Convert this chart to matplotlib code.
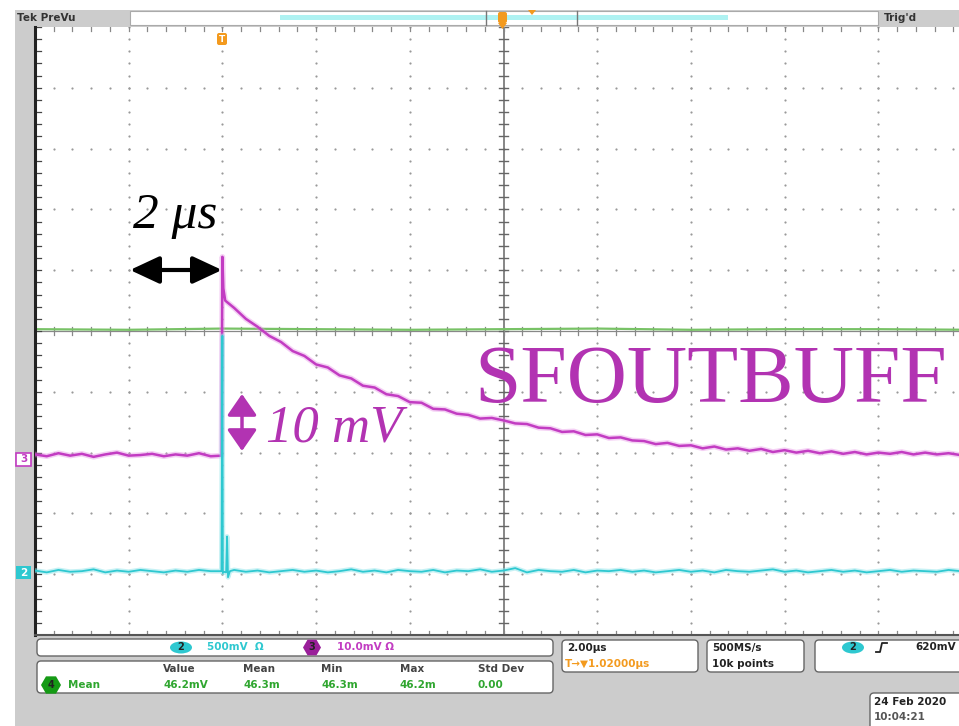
import matplotlib.pyplot as plt
from matplotlib.patches import Rectangle, FancyBboxPatch, Ellipse, RegularPolygon, Polygon


W, H = 959, 726
GRAY = "#cccccc"
MAGENTA = "#c23cc2"
MAG_TEXT = "#b233b2"
CYAN = "#2ec8d0"
GREEN = "#78c266"
ORANGE = "#f39a1e"

# time in us (2 us/div), amplitude in screen divisions
mag_t = [-10.0, -9.75, -9.5, -9.25, -9.0, -8.75, -8.5, -8.25, -8.0, -7.75, -7.5, -7.25,
         -7.0, -6.75, -6.5, -6.25, -6.02, -6.0, -5.98, -5.94,
         -5.75, -5.5, -5.25, -5.0, -4.75, -4.5, -4.25, -4.0, -3.75, -3.5, -3.25, -3.0,
         -2.75, -2.5, -2.25, -2.0, -1.75, -1.5, -1.25, -1.0, -0.75, -0.5, -0.25, 0.0,
         0.25, 0.5, 0.75, 1.0, 1.25, 1.5, 1.75, 2.0, 2.25, 2.5, 2.75, 3.0,
         3.25, 3.5, 3.75, 4.0, 4.25, 4.5, 4.75, 5.0, 5.25, 5.5, 5.75, 6.0,
         6.25, 6.5, 6.75, 7.0, 7.25, 7.5, 7.75, 8.0, 8.25, 8.5, 8.75, 9.0,
         9.25, 9.5, 9.75, 10.0]
mag_v = [-2.03, -2.06, -2.01, -2.05, -2.02, -2.07, -2.03, -2.00, -2.05, -2.04, -2.02, -2.06,
         -2.03, -2.05, -2.01, -2.06, -2.05, 1.22, 0.70, 0.50,
         0.38, 0.20, 0.07, -0.08, -0.18, -0.33, -0.41, -0.55, -0.60, -0.73, -0.78, -0.90,
         -0.93, -1.04, -1.07, -1.17, -1.18, -1.28, -1.29, -1.36, -1.38, -1.44, -1.43, -1.47,
         -1.52, -1.53, -1.59, -1.60, -1.66, -1.65, -1.71, -1.70, -1.76, -1.75, -1.80, -1.81,
         -1.86, -1.84, -1.89, -1.88, -1.93, -1.90, -1.95, -1.93, -1.97, -1.94, -1.99, -1.96,
         -2.00, -1.97, -2.01, -1.98, -2.02, -1.99, -2.03, -2.00, -2.02, -1.99, -2.03, -2.00,
         -2.03, -2.01, -2.04, -2.01]

cyan_t = [-10.0, -9.75, -9.5, -9.25, -9.0, -8.75, -8.5, -8.25, -8.0, -7.75, -7.5, -7.25,
          -7.0, -6.75, -6.5, -6.25, -6.02, -6.0, -5.99, -5.97, -5.92, -5.9, -5.88, -5.84,
          -5.75, -5.5, -5.25, -5.0, -4.75, -4.5, -4.25, -4.0, -3.75, -3.5, -3.25, -3.0,
          -2.75, -2.5, -2.25, -2.0, -1.75, -1.5, -1.25, -1.0, -0.75, -0.5, -0.25, 0.0,
          0.25, 0.5, 0.75, 1.0, 1.25, 1.5, 1.75, 2.0, 2.25, 2.5, 2.75, 3.0,
          3.25, 3.5, 3.75, 4.0, 4.25, 4.5, 4.75, 5.0, 5.25, 5.5, 5.75, 6.0,
          6.25, 6.5, 6.75, 7.0, 7.25, 7.5, 7.75, 8.0, 8.25, 8.5, 8.75, 9.0,
          9.25, 9.5, 9.75, 10.0]
cyan_v = [-3.94, -3.97, -3.93, -3.96, -3.95, -3.92, -3.97, -3.94, -3.96, -3.93, -3.95, -3.97,
          -3.94, -3.96, -3.93, -3.95, -3.95, -0.08, -3.98, -3.96, -3.97, -3.38, -4.05, -3.95,
          -3.93, -3.96, -3.94, -3.97, -3.95, -3.93, -3.96, -3.94, -3.97, -3.95, -3.92, -3.96,
          -3.94, -3.97, -3.93, -3.95, -3.96, -3.93, -3.97, -3.94, -3.95, -3.92, -3.96, -3.94,
          -3.90, -3.97, -3.93, -3.95, -3.96, -3.93, -3.97, -3.94, -3.95, -3.93, -3.96, -3.94,
          -3.97, -3.95, -3.93, -3.96, -3.94, -3.97, -3.93, -3.95, -3.96, -3.94, -3.92, -3.96,
          -3.94, -3.97, -3.95, -3.93, -3.96, -3.94, -3.97, -3.95, -3.93, -3.96, -3.94, -3.95,
          -3.96, -3.93, -3.95, -3.94]

green_t = [-10.0, -8.0, -6.0, -4.0, -2.0, 0.0, 2.0, 4.0, 6.0, 8.0, 10.0]
green_v = [0.03, 0.02, 0.04, 0.03, 0.02, 0.03, 0.04, 0.02, 0.03, 0.03, 0.02]

meas_headers = ["Value", "Mean", "Min", "Max", "Std Dev"]
meas_values = ["46.2mV", "46.3m", "46.3m", "46.2m", "0.00"]
meas_x = [163, 243, 321, 400, 478]


def rbox(axis, x0, y0, x1, y1):
    axis.add_patch(FancyBboxPatch((x0, y0), x1 - x0, y1 - y0,
                                  boxstyle="round,pad=0,rounding_size=4",
                                  facecolor="white", edgecolor="#666666", lw=1.0))


def small(axis, x, y, s, color="#222222", **kw):
    axis.text(x, y, s, fontsize=7.5, color=color, fontweight="bold",
              family="DejaVu Sans", va="center", ha="left", **kw)


fig = plt.figure(figsize=(W / 100, H / 100), dpi=100)

# --- frame of the scope screen, in pixel coordinates
bg = fig.add_axes([0, 0, 1, 1])
bg.set_xlim(0, W)
bg.set_ylim(H, 0)
bg.axis("off")
bg.add_patch(Rectangle((15, 10), W, H, color=GRAY, lw=0))

# header
bg.add_patch(Rectangle((130, 11), 748, 14, facecolor="white", edgecolor="#aaaaaa", lw=0.8))
bg.add_patch(Rectangle((280, 14.5), 448, 5.5, color="#aef2f2", lw=0))
for bx in (486, 577):
    bg.plot([bx, bx], [11, 25], color="#777777", lw=1.0)
bg.add_patch(Polygon([[528, 10], [536, 10], [532, 15]], color=ORANGE, lw=0))
small(bg, 17, 18, "Tek PreVu", color="#333333")
small(bg, 884, 18, "Trig'd", color="#333333")

# ground markers on the left
bg.add_patch(Rectangle((16, 453), 15, 13, facecolor="white", edgecolor=MAGENTA, lw=1.2))
bg.text(23.5, 459.5, "3", color=MAGENTA, fontsize=7.5, fontweight="bold", ha="center", va="center")
bg.add_patch(Rectangle((16, 566), 15, 13, color=CYAN, lw=0))
bg.text(23.5, 572.5, "2", color="white", fontsize=7.5, fontweight="bold", ha="center", va="center")

# bottom readouts
rbox(bg, 37, 639, 553, 656)
bg.add_patch(Ellipse((181, 647.5), 22, 12, color=CYAN, lw=0))
bg.text(181, 647.5, "2", fontsize=7, fontweight="bold", ha="center", va="center", color="#222222")
small(bg, 207, 647.5, "500mV  Ω", color=CYAN)
bg.add_patch(RegularPolygon((312, 647.5), 6, radius=9, orientation=0.5236, color="#9a1f9a", lw=0))
bg.text(312, 647.5, "3", fontsize=7, fontweight="bold", ha="center", va="center", color="#222222")
small(bg, 337, 647.5, "10.0mV Ω", color=MAGENTA)

rbox(bg, 37, 661, 553, 693)
for hx, head, val in zip(meas_x, meas_headers, meas_values):
    small(bg, hx, 669, head, color="#444444")
    small(bg, hx, 685, val, color="#2fa62f")
bg.add_patch(RegularPolygon((51, 685), 6, radius=10, orientation=0.5236, color="#159a15", lw=0))
bg.text(51, 685, "4", fontsize=7, fontweight="bold", ha="center", va="center", color="#222222")
small(bg, 68, 685, "Mean", color="#2fa62f")

rbox(bg, 562, 640, 698, 672)
small(bg, 567, 648, "2.00µs")
small(bg, 565, 664, "T→▼1.02000µs", color=ORANGE)

rbox(bg, 707, 640, 804, 672)
small(bg, 712, 648, "500MS/s")
small(bg, 712, 664, "10k points")

rbox(bg, 815, 640, 975, 672)
bg.add_patch(Ellipse((853, 647.5), 22, 12, color=CYAN, lw=0))
bg.text(853, 647.5, "2", fontsize=7, fontweight="bold", ha="center", va="center", color="#222222")
bg.plot([876, 880, 882, 887], [652, 652, 643, 643], color="#222222", lw=1.3)
small(bg, 915, 647.5, "620mV")

rbox(bg, 870, 693, 975, 740)
small(bg, 874, 702, "24 Feb 2020")
small(bg, 874, 717, "10:04:21", color="#555555")

# --- graticule: 10 x 10 divisions
x0, x1, y0, y1 = 35, 972, 27, 635
ax = fig.add_axes([x0 / W, (H - y1) / H, (x1 - x0) / W, (y1 - y0) / H])
ax.set_xlim(-10, 10)
ax.set_ylim(-5, 5)
ax.set_facecolor("white")
ax.set_xticks([])
ax.set_yticks([])
for side in ("top", "right"):
    ax.spines[side].set_visible(False)
ax.spines["left"].set_color("#222222")
ax.spines["left"].set_linewidth(2.2)
ax.spines["bottom"].set_color("#555555")
ax.spines["bottom"].set_linewidth(1.5)

minor_y = [i / 5 for i in range(-25, 26)]
minor_x = [i * 0.4 for i in range(-25, 26)]
for gx in range(-8, 11, 2):
    if gx != 0:
        ax.scatter([gx] * len(minor_y), minor_y, s=2.5, color="#999999", lw=0, zorder=1)
for gy in range(-4, 5):
    if gy != 0:
        ax.scatter(minor_x, [gy] * len(minor_x), s=2.5, color="#999999", lw=0, zorder=1)

ax.axvline(0, color="#666666", lw=1.1, zorder=1)
ax.axhline(0, color="#888888", lw=0.9, zorder=1)
for yy in minor_y:
    ax.plot([-0.09, 0.09], [yy, yy], color="#666666", lw=1.0, zorder=1)
    ax.plot([-10, -9.88], [yy, yy], color="#444444", lw=0.9, zorder=1)
for xx in minor_x:
    ax.plot([xx, xx], [-0.07, 0.07], color="#888888", lw=0.9, zorder=1)
    ax.plot([xx, xx], [4.93, 5.0], color="#888888", lw=0.9, zorder=1)
    ax.plot([xx, xx], [-5.0, -4.93], color="#888888", lw=0.9, zorder=1)

# traces
ax.plot(green_t, green_v, color=GREEN, lw=1.6, zorder=2)
ax.plot(mag_t, mag_v, color="#e58ae5", lw=4, alpha=0.4, zorder=3, solid_joinstyle="round")
ax.plot(mag_t, mag_v, color=MAGENTA, lw=1.8, zorder=3)
ax.plot(cyan_t, cyan_v, color="#8ee4ea", lw=3.5, alpha=0.5, zorder=4)
ax.plot(cyan_t, cyan_v, color=CYAN, lw=1.3, zorder=4)

# --- annotations on top, pixel coordinates again
ov = fig.add_axes([0, 0, 1, 1])
ov.set_xlim(0, W)
ov.set_ylim(H, 0)
ov.axis("off")
ov.patch.set_alpha(0)

# trigger markers
ov.add_patch(FancyBboxPatch((217, 33), 10, 12, boxstyle="round,pad=0,rounding_size=2",
                            color=ORANGE, lw=0))
ov.text(222, 39, "T", fontsize=6.5, fontweight="bold", color="white", ha="center", va="center")
ov.add_patch(FancyBboxPatch((498, 12), 9, 11, boxstyle="round,pad=0,rounding_size=2",
                            color=ORANGE, lw=0))
ov.add_patch(Polygon([[498, 23], [507, 23], [502.5, 29]], color=ORANGE, lw=0))

ov.annotate("", xy=(222, 270), xytext=(130, 270),
            arrowprops=dict(arrowstyle="<|-|>,head_length=0.9,head_width=0.42",
                            mutation_scale=20, lw=3, color="black", shrinkA=0, shrinkB=0))
ov.text(133, 228, "2 μs", fontsize=37, style="italic", family="Liberation Serif",
        color="black", ha="left", va="baseline")

ov.annotate("", xy=(242, 394), xytext=(242, 451),
            arrowprops=dict(arrowstyle="<|-|>,head_length=0.65,head_width=0.45",
                            mutation_scale=20, lw=2.5, color=MAG_TEXT, shrinkA=0, shrinkB=0))
ov.text(266, 441, "10 mV", fontsize=38, style="italic", family="Liberation Serif",
        color=MAG_TEXT, ha="left", va="baseline")

ov.text(474, 402, "SFOUTBUFF", fontsize=60, family="Liberation Serif",
        color=MAG_TEXT, ha="left", va="baseline")

fig.savefig("out.png", dpi=100)
